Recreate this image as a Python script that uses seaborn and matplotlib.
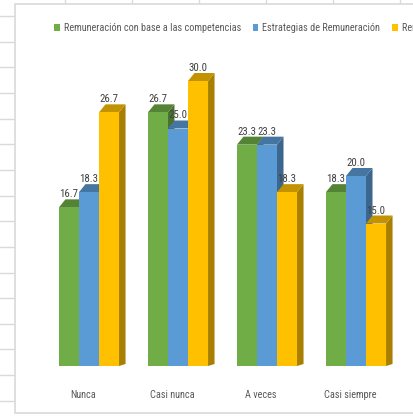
import numpy as np
import pandas as pd
import seaborn as sns
import matplotlib
matplotlib.use('Agg')
import matplotlib.pyplot as plt
from matplotlib.patches import Polygon, Rectangle
from matplotlib.lines import Line2D
from matplotlib.transforms import ScaledTranslation
from matplotlib import font_manager, colors as mcolors

categories = ['Nunca', 'Casi nunca', 'A veces', 'Casi siempre']
series = ['Remuneración con base a las competencias',
          'Estrategias de Remuneración',
          'Remuneración y desempeño']
comp = [16.7, 26.7, 23.3, 18.3]
estr = [18.3, 25.0, 23.3, 20.0]
third = [26.7, 30.0, 18.3, 15.0]
palette = ['#70AD47', '#5B9BD5', '#FFC000']

sns.set_theme(style='white')
avail = {f.name for f in font_manager.fontManager.ttflist}
font = next((f for f in ['Liberation Sans Narrow', 'Roboto Condensed',
                         'Open Sans Condensed'] if f in avail), 'Liberation Sans')
plt.rcParams['font.family'] = [font, 'DejaVu Sans']
FS = 7.35
TXT = '#595959'

df = pd.DataFrame({
    'cat': categories * 3,
    'serie': [series[0]] * 4 + [series[1]] * 4 + [series[2]] * 4,
    'val': comp + estr + third,
})

W, H = 414, 416
fig = plt.figure(figsize=(W / 100, H / 100), dpi=100, facecolor='white')

# spreadsheet background (rows on the left, columns on top)
for yy in np.arange(16, H, 25.65):
    fig.add_artist(Line2D([0, 15 / W], [1 - yy / H] * 2, transform=fig.transFigure,
                          color='#DADADA', lw=1, zorder=-2))
for xx in np.arange(65, W, 67):
    fig.add_artist(Line2D([xx / W] * 2, [1, 1 - 4 / H], transform=fig.transFigure,
                          color='#DADADA', lw=1, zorder=-2))
# chart box
fig.add_artist(Rectangle((15 / W, 3 / H), 1.2, 1 - 7 / H, transform=fig.transFigure,
                         facecolor='white', edgecolor='#D9D9D9', lw=1.2, zorder=-1))

ax = fig.add_axes([44.5 / W, 50 / H, 356 / W, 323 / H])
ax.set_zorder(1)
ax.set_facecolor('none')
sns.barplot(data=df, x='cat', y='val', hue='serie', palette=palette, width=0.675,
            saturation=1, ax=ax, legend=True)
ax.set_xlim(-0.5, 3.5)
ax.set_ylim(0, 34)
ax.set_yticks([])
ax.set_xlabel('')
ax.set_ylabel('')
sns.despine(ax=ax, left=True, bottom=True)

handles, labels = ax.get_legend_handles_labels()
ax.get_legend().remove()

fig.canvas.draw()
px_x = ax.bbox.width / 4.0
px_y = ax.bbox.height / 34.0
dx = 6.5 / px_x
dy = 8.0 / px_y

bars = sorted([p for p in ax.patches if p.get_height() > 0], key=lambda p: p.get_x())
for i, p in enumerate(bars):
    x0, w, h = p.get_x(), p.get_width(), p.get_height()
    fc = np.array(mcolors.to_rgb(p.get_facecolor()))
    z = 2 + i
    p.set_zorder(z + 0.5)
    p.set_edgecolor('none')
    x1 = x0 + w
    side = Polygon([(x1, 0), (x1 + dx, dy * 0.25), (x1 + dx, h + dy), (x1, h)],
                   closed=True, facecolor=fc * 0.66, edgecolor='none', zorder=z)
    top = Polygon([(x0, h), (x0 + dx, h + dy), (x1 + dx, h + dy), (x1, h)],
                  closed=True, facecolor=fc * 0.76, edgecolor='none', zorder=z)
    ax.add_patch(side)
    ax.add_patch(top)
    ax.annotate(f'{h:.1f}', xy=(x0 + w / 2, h), xytext=(0, 10 * 0.72),
                textcoords='offset points', ha='center', va='baseline',
                fontsize=FS + 0.5, color='#404040', zorder=100)

ax.tick_params(axis='x', length=0, pad=17.2, labelsize=FS, labelcolor=TXT)
for lab in ax.get_xticklabels():
    lab.set_transform(lab.get_transform() + ScaledTranslation(-6 / 100, 0, fig.dpi_scale_trans))

leg = fig.legend(handles, labels, loc='center left', bbox_to_anchor=(54 / W, 1 - 28 / H),
                 ncol=3, frameon=False, handlelength=0.55, handleheight=0.6,
                 handletextpad=0.4, columnspacing=1.15, fontsize=FS,
                 borderaxespad=0, borderpad=0, labelcolor=TXT)
for hd in leg.legend_handles:
    hd.set_edgecolor('none')

fig.savefig('out.png', dpi=100, facecolor='white')
